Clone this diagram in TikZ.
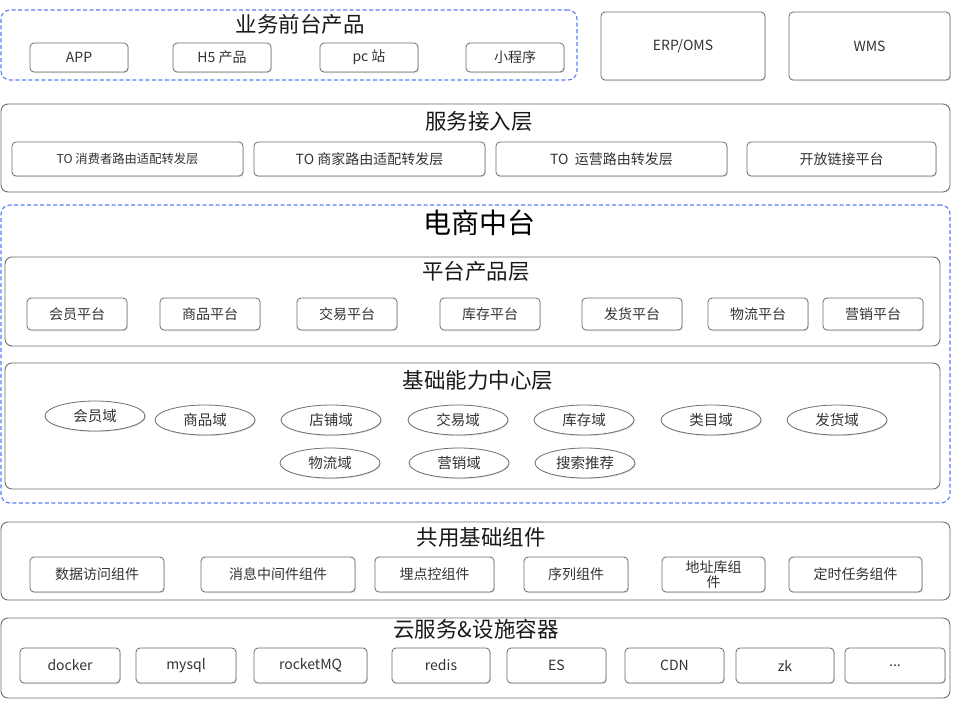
\documentclass[tikz,border=0pt]{standalone}
\usepackage{fontspec}
\setmainfont{Noto Sans CJK SC}
\usetikzlibrary{shadows,shapes.geometric}
\definecolor{edge}{RGB}{110,110,110}
\definecolor{dash}{RGB}{90,125,245}
\tikzset{
  x=1pt,y=-1pt,
  layer/.style={draw=edge,line width=0.9pt,rounded corners=7pt,inner sep=0pt},
  grp/.style={draw=dash,line width=1.1pt,dash pattern=on 4pt off 2.5pt,rounded corners=9pt,inner sep=0pt},
  item/.style={draw=edge,line width=0.8pt,rounded corners=4pt,fill=white,
    drop shadow={shadow xshift=0.8pt,shadow yshift=-1pt,opacity=0.25},
    font=\fontsize{14}{15}\selectfont,text=black!80,inner sep=1pt,align=center},
  dom/.style={draw=edge,line width=0.8pt,ellipse,fill=white,minimum width=100pt,minimum height=30pt,
    drop shadow={shadow xshift=0.8pt,shadow yshift=-1pt,opacity=0.25},
    font=\fontsize{14.5}{16}\selectfont,text=black!80,inner sep=0pt},
  ttl/.style={font=\fontsize{21.5}{23}\selectfont,text=black!90},
}
\newcommand{\bx}[6]{\node[item,minimum width=#4-#2,minimum height=#5-#3] (#1) at ({(#2+#4)/2},{(#3+#5)/2}) {#6};}
\newcommand{\ly}[6]{\node[#6,minimum width=#4-#2,minimum height=#5-#3] (#1) at ({(#2+#4)/2},{(#3+#5)/2}) {};}
\begin{document}
\begin{tikzpicture}
\useasboundingbox[fill=white] (0,0) rectangle (953,705);
% front products
\ly{front}{1}{10}{577}{80}{grp}
\node[ttl] (frontT) at (300,24) {业务前台产品};
\bx{app}{30}{43}{128}{72}{APP}
\bx{h5}{173}{43}{271}{72}{H5 产品}
\bx{pc}{320}{43}{418}{72}{pc 站}
\bx{mini}{466}{43}{564}{72}{小程序}
\bx{erp}{601}{12}{765}{80}{ERP/OMS}
\bx{wms}{789}{12}{950}{80}{WMS}
% access layer
\ly{access}{1}{104}{950}{192}{layer}
\node[ttl] (accessT) at (479,121) {服务接入层};
\bx{toc}{12}{142}{243}{176}{\fontsize{12.3}{14}\selectfont TO 消费者路由适配转发层}
\bx{tob}{254}{142}{485}{176}{TO 商家路由适配转发层}
\bx{too}{496}{142}{727}{176}{TO\ \ 运营路由转发层}
\bx{open}{747}{142}{936}{176}{开放链接平台}
% middle platform
\ly{mid}{1}{205}{950}{503}{grp}
\node[font=\fontsize{28}{30}\selectfont,text=black] (midT) at (479,223) {电商中台};
\ly{plat}{5}{257}{940}{346}{layer}
\node[ttl] (platT) at (476,271) {平台产品层};
\bx{p1}{27}{298}{127}{330}{会员平台}
\bx{p2}{160}{298}{260}{330}{商品平台}
\bx{p3}{297}{298}{397}{330}{交易平台}
\bx{p4}{440}{298}{540}{330}{库存平台}
\bx{p5}{582}{298}{682}{330}{发货平台}
\bx{p6}{708}{298}{808}{330}{物流平台}
\bx{p7}{823}{298}{923}{330}{营销平台}
\ly{base}{5}{363}{940}{489}{layer}
\node[ttl] (baseT) at (478,380) {基础能力中心层};
\node[dom] (d1) at (95,416) {会员域};
\node[dom] (d2) at (205,420) {商品域};
\node[dom] (d3) at (331,420) {店铺域};
\node[dom] (d4) at (458,420) {交易域};
\node[dom] (d5) at (584,420) {库存域};
\node[dom] (d6) at (711,420) {类目域};
\node[dom] (d7) at (837,420) {发货域};
\node[dom] (d8) at (330,463) {物流域};
\node[dom] (d9) at (459,463) {营销域};
\node[dom] (d10) at (585,463) {搜索推荐};
% common components
\ly{comm}{1}{522}{950}{600}{layer}
\node[ttl] (commT) at (481,537) {共用基础组件};
\bx{c1}{30}{557}{164}{592}{数据访问组件}
\bx{c2}{201}{557}{355}{592}{消息中间件组件}
\bx{c3}{375}{557}{494}{592}{埋点控组件}
\bx{c4}{524}{557}{628}{592}{序列组件}
\bx{c5}{662}{557}{765}{592}{\fontsize{14}{15.5}\selectfont 地址库组\\件}
\bx{c6}{789}{557}{922}{592}{定时任务组件}
% cloud
\ly{cloud}{1}{618}{950}{698}{layer}
\node[ttl] (cloudT) at (476,629) {云服务\&设施容器};
\bx{k1}{20}{648}{120}{683}{docker}
\bx{k2}{136}{648}{236}{683}{mysql}
\bx{k3}{254}{648}{367}{683}{rocketMQ}
\bx{k4}{392}{648}{490}{683}{redis}
\bx{k5}{507}{648}{606}{683}{ES}
\bx{k6}{625}{648}{724}{683}{CDN}
\bx{k7}{736}{648}{834}{683}{zk}
\bx{k8}{845}{648}{945}{683}{...}
\end{tikzpicture}
\end{document}
